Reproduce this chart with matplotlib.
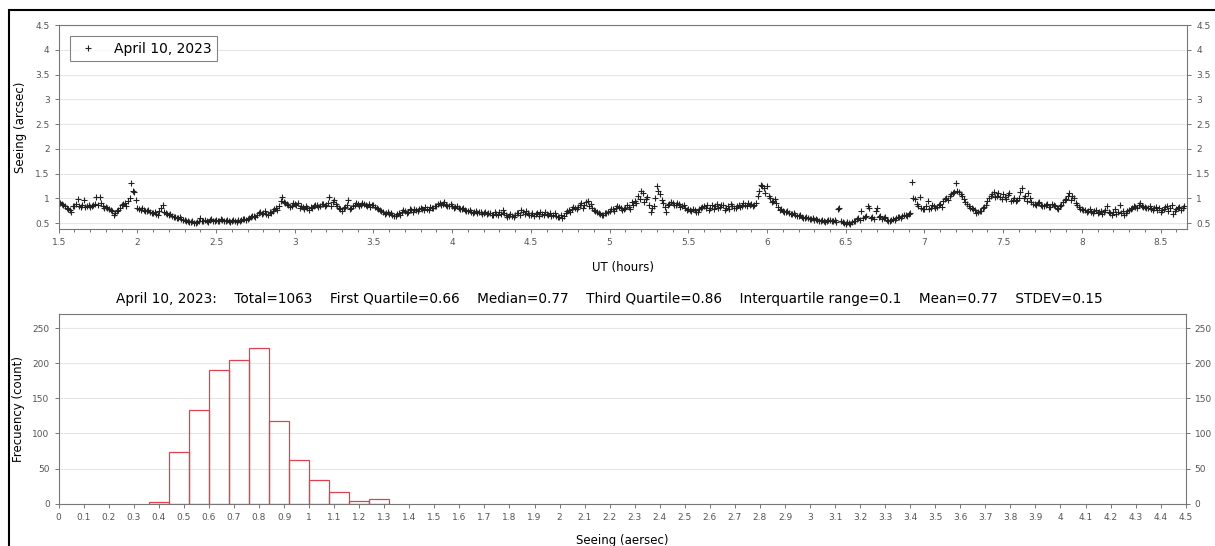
import numpy as np
import matplotlib
matplotlib.use("Agg")
import matplotlib.pyplot as plt
from matplotlib.patches import Rectangle
from matplotlib.ticker import MultipleLocator

# seeing samples: two interleaved runs, each one value every 0.02 h
t0 = 1.50
dt = 0.02
seeing_a = [
    0.92, 0.88, 0.84, 0.78, 0.73,  0.85, 0.98, 0.82, 0.97, 0.84,
    0.83, 0.86, 1.03, 1.02, 0.84,  0.82, 0.78, 0.74, 0.70, 0.76,
    0.86, 0.90, 0.95, 1.30, 1.12,  0.80, 0.77, 0.76, 0.74, 0.72,
    0.70, 0.68, 0.74, 0.86, 0.70,  0.66, 0.64, 0.62, 0.60, 0.58,
    0.56, 0.54, 0.52, 0.51, 0.53,  0.60, 0.54, 0.55, 0.56, 0.55,
    0.57, 0.55, 0.56, 0.54, 0.55,  0.54, 0.55, 0.57, 0.56, 0.58,
    0.58, 0.62, 0.65, 0.67, 0.72,  0.70, 0.68, 0.72, 0.75, 0.80,
    0.85, 1.02, 0.90, 0.86, 0.84,  0.88, 0.90, 0.84, 0.78, 0.80,
    0.82, 0.84, 0.86, 0.84, 0.88,  0.86, 1.02, 0.92, 0.88, 0.80,
    0.74, 0.82, 0.96, 0.80, 0.86,  0.88, 0.86, 0.88, 0.84, 0.82,
    0.86, 0.80, 0.76, 0.72, 0.70,  0.68, 0.66, 0.64, 0.70, 0.72,
    0.74, 0.72, 0.76, 0.78, 0.74,  0.80, 0.76, 0.78, 0.82, 0.80,
    0.84, 0.90, 0.88, 0.86, 0.84,  0.84, 0.82, 0.80, 0.78, 0.76,
    0.74, 0.72, 0.72, 0.70, 0.72,  0.70, 0.68, 0.70, 0.66, 0.68,
    0.72, 0.76, 0.66, 0.64, 0.65,  0.66, 0.70, 0.76, 0.68, 0.70,
    0.66, 0.64, 0.70, 0.72, 0.66,  0.68, 0.70, 0.66, 0.64, 0.62,
    0.60, 0.70, 0.76, 0.78, 0.80,  0.82, 0.90, 0.86, 0.94, 0.88,
    0.76, 0.72, 0.68, 0.66, 0.70,  0.74, 0.78, 0.80, 0.82, 0.76,
    0.80, 0.82, 0.93, 0.95, 1.05,  1.15, 0.92, 1.02, 0.72, 0.85,
    1.25, 1.08, 0.90, 0.72, 0.88,  0.90, 0.86, 0.88, 0.84, 0.80,
    0.78, 0.74, 0.76, 0.72, 0.80,  0.84, 0.86, 0.80, 0.78, 0.88,
    0.82, 0.86, 0.80, 0.78, 0.84,  0.80, 0.86, 0.84, 0.86, 0.90,
    0.88, 0.86, 1.05, 1.27, 1.20,  1.25, 1.00, 0.95, 0.90, 0.76,
    0.74, 0.72, 0.70, 0.68, 0.66,  0.64, 0.62, 0.60, 0.60, 0.58,
    0.56, 0.56, 0.54, 0.55, 0.55,  0.56, 0.55, 0.52, 0.80, 0.52,
    0.48, 0.50, 0.52, 0.55, 0.60,  0.74, 0.62, 0.85, 0.60, 0.58,
    0.80, 0.64, 0.60, 0.56, 0.55,  0.58, 0.60, 0.62, 0.64, 0.66,
    0.68, 1.32, 0.98, 0.85, 0.80,  0.78, 0.95, 0.80, 0.85, 0.82,
    0.88, 0.95, 1.00, 1.05, 1.10,  1.30, 1.12, 1.05, 0.92, 0.85,
    0.80, 0.76, 0.72, 0.75, 0.82,  0.95, 1.05, 1.12, 1.05, 1.02,
    1.08, 0.98, 1.10, 0.96, 0.94,  1.00, 1.20, 1.05, 1.10, 0.92,
    0.88, 0.90, 0.86, 0.84, 0.88,  0.82, 0.86, 0.80, 0.84, 0.92,
    0.98, 1.10, 1.05, 0.90, 0.82,  0.78, 0.76, 0.74, 0.72, 0.74,
    0.70, 0.74, 0.72, 0.84, 0.70,  0.72, 0.68, 0.86, 0.74, 0.70,
    0.76, 0.80, 0.82, 0.86, 0.84,  0.82, 0.80, 0.78, 0.80, 0.76,
    0.72, 0.78, 0.84, 0.80, 0.68,  0.78, 0.82, 0.80,
]
seeing_b = [
    0.90, 0.86, 0.80, 0.76, 0.84,  0.88, 0.84, 0.86, 0.82, 0.86,
    0.84, 0.88, 0.86, 0.90, 0.80,  0.80, 0.76, 0.66, 0.74, 0.80,
    0.88, 0.84, 1.00, 1.15, 0.96,  0.78, 0.80, 0.74, 0.76, 0.70,
    0.72, 0.66, 0.80, 0.72, 0.68,  0.68, 0.62, 0.60, 0.62, 0.56,
    0.55, 0.53, 0.55, 0.50, 0.54,  0.54, 0.56, 0.53, 0.58, 0.54,
    0.55, 0.58, 0.54, 0.56, 0.53,  0.56, 0.53, 0.55, 0.58, 0.56,
    0.60, 0.64, 0.62, 0.70, 0.68,  0.74, 0.66, 0.70, 0.78, 0.76,
    0.95, 0.92, 0.88, 0.82, 0.90,  0.86, 0.80, 0.82, 0.84, 0.76,
    0.80, 0.86, 0.82, 0.88, 0.84,  0.90, 0.84, 0.96, 0.84, 0.78,
    0.80, 0.86, 0.78, 0.84, 0.90,  0.84, 0.90, 0.86, 0.88, 0.86,
    0.82, 0.78, 0.74, 0.68, 0.72,  0.70, 0.64, 0.68, 0.66, 0.76,
    0.70, 0.78, 0.72, 0.76, 0.78,  0.78, 0.82, 0.76, 0.80, 0.84,
    0.88, 0.86, 0.92, 0.84, 0.88,  0.80, 0.84, 0.78, 0.80, 0.74,
    0.76, 0.70, 0.74, 0.72, 0.68,  0.72, 0.70, 0.66, 0.72, 0.66,
    0.68, 0.70, 0.62, 0.68, 0.62,  0.70, 0.66, 0.72, 0.74, 0.66,
    0.70, 0.68, 0.64, 0.68, 0.72,  0.66, 0.64, 0.70, 0.62, 0.66,
    0.64, 0.74, 0.72, 0.82, 0.78,  0.86, 0.80, 0.92, 0.84, 0.80,
    0.74, 0.70, 0.66, 0.70, 0.72,  0.78, 0.74, 0.84, 0.80, 0.78,
    0.86, 0.78, 0.86, 0.90, 0.98,  1.10, 0.98, 0.86, 0.80, 1.00,
    1.15, 0.96, 0.82, 0.86, 0.92,  0.86, 0.90, 0.82, 0.86, 0.76,
    0.76, 0.78, 0.72, 0.78, 0.82,  0.80, 0.76, 0.86, 0.84, 0.80,
    0.86, 0.76, 0.84, 0.88, 0.80,  0.84, 0.82, 0.90, 0.84, 0.86,
    0.84, 0.90, 1.15, 1.25, 1.10,  1.05, 0.92, 0.98, 0.82, 0.78,
    0.72, 0.74, 0.68, 0.70, 0.64,  0.66, 0.60, 0.62, 0.58, 0.60,
    0.58, 0.54, 0.56, 0.53, 0.56,  0.54, 0.56, 0.78, 0.54, 0.50,
    0.52, 0.48, 0.54, 0.58, 0.56,  0.60, 0.64, 0.80, 0.62, 0.74,
    0.62, 0.58, 0.62, 0.54, 0.57,  0.56, 0.62, 0.60, 0.66, 0.64,
    0.70, 1.00, 0.88, 1.02, 0.78,  0.84, 0.78, 0.86, 0.80, 0.86,
    0.82, 0.98, 0.96, 1.08, 1.12,  1.15, 1.08, 0.98, 0.88, 0.80,
    0.78, 0.70, 0.74, 0.80, 0.86,  1.00, 1.08, 1.02, 1.10, 0.98,
    1.02, 1.06, 0.94, 1.00, 0.96,  1.12, 1.00, 0.94, 1.00, 0.88,
    0.86, 0.92, 0.84, 0.86, 0.82,  0.88, 0.84, 0.78, 0.86, 0.96,
    1.05, 0.96, 1.00, 0.86, 0.78,  0.76, 0.72, 0.78, 0.70, 0.76,
    0.72, 0.68, 0.76, 0.72, 0.66,  0.78, 0.72, 0.70, 0.66, 0.74,
    0.78, 0.84, 0.80, 0.90, 0.82,  0.80, 0.84, 0.76, 0.82, 0.80,
    0.76, 0.82, 0.74, 0.86, 0.74,  0.80, 0.76, 0.84,
]
ut_a = t0 + dt * np.arange(len(seeing_a))
ut_b = t0 + dt / 2 + dt * np.arange(len(seeing_b))
ut = np.concatenate([ut_a, ut_b])
seeing = np.concatenate([seeing_a, seeing_b])

# histogram of the night (bin width 0.08 arcsec)
bin_edges = [0.36, 0.44, 0.52, 0.60, 0.68, 0.76, 0.84, 0.92, 1.00, 1.08, 1.16, 1.24, 1.32]
bin_counts = [2, 73, 133, 190, 204, 221, 117, 62, 34, 16, 4, 7]

night = "April 10, 2023"
stats = "Total=1063    First Quartile=0.66    Median=0.77    Third Quartile=0.86    Interquartile range=0.1    Mean=0.77    STDEV=0.15"

tick_col = "#555555"
spine_col = "#777777"
grid_col = "#e6e6e6"

fig = plt.figure(figsize=(12.15, 5.46), dpi=100)

# outer frame
fig.patches.append(Rectangle((9 / 1215, -0.2), 1.5, 1 - 10 / 546 + 0.2, transform=fig.transFigure,
                             fill=False, edgecolor="black", linewidth=1.5))


def style_axes(ax):
    for s in ax.spines.values():
        s.set_color(spine_col)
        s.set_linewidth(0.8)
    ax.tick_params(axis="both", which="both", colors=spine_col, labelcolor=tick_col,
                   labelsize=6.5, direction="out", length=3, width=0.7)
    ax.tick_params(axis="y", right=True, labelright=True)
    ax.tick_params(axis="x", which="minor", length=2)
    ax.grid(axis="y", color=grid_col, linewidth=0.8)
    ax.set_axisbelow(True)


# time series
ax1 = fig.add_axes([0.0483, 0.5806, 0.9289, 0.3736])
ax1.plot(ut, seeing, linestyle="none", marker="+", markersize=5, markeredgewidth=0.8,
         color="#222222", label=night)
ax1.set_xlim(1.5, 8.67)
ax1.set_ylim(0.38, 4.5)
ax1.xaxis.set_major_locator(MultipleLocator(0.5))
ax1.xaxis.set_minor_locator(MultipleLocator(0.1))
ax1.yaxis.set_major_locator(MultipleLocator(0.5))
ax1.xaxis.set_major_formatter(lambda v, p: f"{v:g}")
ax1.yaxis.set_major_formatter(lambda v, p: f"{v:g}")
style_axes(ax1)
ax1.set_xlabel("UT (hours)", fontsize=8.5, labelpad=10)
ax1.set_ylabel("Seeing (arcsec)", fontsize=8.5, labelpad=6)
leg = ax1.legend(loc="upper left", fontsize=10, fancybox=False, edgecolor="#666666",
                 handlelength=1.8, handletextpad=1.0, borderaxespad=0.8,
                 bbox_to_anchor=(0.0, 1.0))
leg.get_frame().set_linewidth(0.8)

# histogram
ax2 = fig.add_axes([0.0483, 0.0775, 0.9276, 0.3474])
widths = np.diff(bin_edges)
ax2.bar(bin_edges[:-1], bin_counts, width=widths, align="edge", fill=False,
        edgecolor="#e0404f", linewidth=0.9)
ax2.set_xlim(0, 4.5)
ax2.set_ylim(0, 270)
ax2.xaxis.set_major_locator(MultipleLocator(0.1))
ax2.yaxis.set_major_locator(MultipleLocator(50))
ax2.xaxis.set_major_formatter(lambda v, p: f"{v:.1f}".rstrip("0").rstrip("."))
style_axes(ax2)
ax2.set_xlabel("Seeing (aersec)", fontsize=8.5, labelpad=9)
ax2.set_ylabel("Frecuency (count)", fontsize=8.5, labelpad=5)
ax2.set_title(night + ":    " + stats, fontsize=9.8, pad=8)
ax2.title.set_x(0.489)

fig.savefig("out.png", dpi=100)
